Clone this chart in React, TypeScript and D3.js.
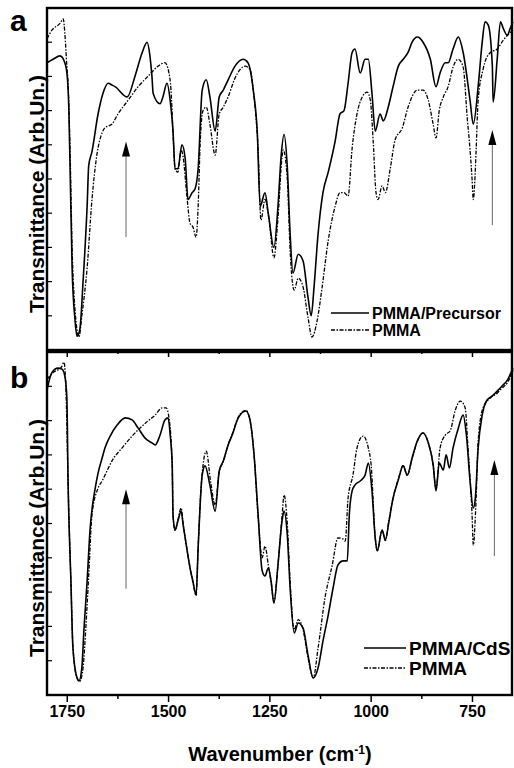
import React, { useEffect, useRef } from 'react';
import * as d3 from 'd3';

type Pt = [number, number];

// panel a: PMMA/Precursor vs PMMA (wavenumber, transmittance arb.)
const precursorA: Pt[] = [
  [1800, 84], [1785, 85], [1768, 86], [1756, 84], [1750, 80], [1746, 70], [1743, 53], [1738, 24], [1731, 9], [1726, 4],
  [1719, 6], [1711, 20], [1701, 42], [1697, 54], [1689, 58], [1674, 69], [1662, 75], [1649, 78], [1640, 77.5], [1632, 77],
  [1602, 74], [1583, 80], [1565, 87], [1553, 90], [1546, 86], [1541, 80], [1538, 75], [1521, 72], [1514, 74], [1504, 78],
  [1496, 73], [1489, 64], [1484, 53], [1477, 53], [1467, 60], [1459, 56], [1452, 44], [1442, 46], [1435, 47], [1427, 53],
  [1417, 76], [1407, 79], [1398, 74], [1385, 64], [1375, 74], [1365, 76], [1353, 79], [1336, 83], [1316, 85], [1304, 84],
  [1291, 76], [1281, 63.5], [1274, 42], [1262, 46], [1254, 40], [1240, 30], [1230, 42], [1222, 57], [1215, 63], [1207, 53.5],
  [1200, 34], [1193, 22.5], [1180, 28], [1168, 26], [1156, 15.5], [1148, 10], [1141, 18.4], [1131, 34], [1119, 46], [1106, 52],
  [1089, 61], [1077, 69], [1067, 70], [1057, 78], [1047, 87], [1040, 88], [1027, 81], [1015, 85], [1007, 85], [998, 75],
  [990, 64], [978, 69], [970, 67], [958, 71], [946, 77], [933, 83], [921, 85], [909, 87], [899, 90], [886, 91.5],
  [872, 90], [854, 85], [840, 77], [830, 81], [817, 84], [810, 84], [798, 88], [785, 91.5], [773, 87], [756, 73],
  [748, 66], [736, 77], [726, 90], [719, 96], [711, 95], [701, 83], [699, 72.5], [689, 85], [681, 96], [674, 94],
  [664, 92], [657, 94], [650, 96],
];

const pmmaA: Pt[] = [
  [1800, 91], [1788, 93.5], [1768, 95.5], [1760, 96.8], [1756, 92.7], [1751, 83], [1748, 78], [1743, 58], [1738, 30], [1731, 12],
  [1721, 3.8], [1714, 10], [1701, 24], [1689, 44], [1677, 57], [1664, 63.5], [1657, 65], [1640, 66], [1625, 69], [1600, 73],
  [1575, 77], [1551, 80], [1526, 83], [1509, 84], [1499, 81], [1494, 76], [1489, 63.5], [1484, 53], [1477, 52], [1469, 58.5],
  [1464, 56.4], [1454, 44], [1447, 37], [1440, 36], [1432, 33], [1427, 42], [1422, 60.5], [1415, 70], [1407, 71], [1398, 66],
  [1385, 57], [1375, 69], [1365, 71], [1353, 74], [1336, 79.5], [1311, 83], [1299, 82], [1289, 74], [1279, 58.5], [1272, 38],
  [1262, 44], [1252, 38], [1240, 27], [1230, 38.6], [1220, 56.4], [1217, 58.5], [1207, 50], [1200, 29], [1190, 17.5], [1180, 21],
  [1168, 18.4], [1156, 9.6], [1146, 3.8], [1133, 8.8], [1121, 18.4], [1106, 32], [1089, 42], [1077, 46], [1067, 46], [1057, 45],
  [1047, 59], [1035, 69], [1022, 74], [1010, 75.4], [1002, 73], [995, 61], [988, 46], [983, 44], [973, 48], [965, 46],
  [953, 53], [941, 61.4], [923, 65], [909, 71], [886, 76], [872, 76], [859, 73], [847, 66], [840, 62], [832, 70],
  [822, 74], [810, 77], [798, 82.7], [785, 85], [773, 82.7], [763, 68], [756, 58.5], [751, 50], [748, 44], [744, 50],
  [741, 58.5], [736, 73], [724, 82], [706, 87], [689, 88], [674, 90.6], [650, 93.6],
];

// panel b: PMMA/CdS vs PMMA
const cdsB: Pt[] = [
  [1800, 89], [1788, 94], [1773, 95.3], [1763, 95], [1756, 93], [1751, 86.6], [1748, 62.4], [1741, 33.2], [1736, 13.7], [1726, 5],
  [1721, 4.1], [1714, 7.9], [1709, 18.7], [1701, 33.2], [1694, 47.8], [1681, 60.3], [1674, 64.7], [1664, 69.1], [1657, 72], [1644, 75.5],
  [1627, 78.7], [1607, 80.8], [1590, 80.2], [1575, 77.8], [1558, 74.9], [1541, 73.5], [1533, 72.9], [1521, 75.8], [1509, 80.2], [1501, 80.8],
  [1496, 75.8], [1491, 67.1], [1489, 52.5], [1484, 48.1], [1477, 50.7], [1469, 53.6], [1464, 49.6], [1454, 42], [1447, 37], [1440, 33.2],
  [1432, 29.2], [1427, 42.9], [1417, 64.1], [1410, 66.8], [1398, 61.2], [1385, 53.6], [1375, 65.3], [1365, 68.2], [1353, 72.9], [1343, 75.8],
  [1328, 80.8], [1309, 82.8], [1299, 80.2], [1289, 70], [1279, 52.5], [1269, 36.2], [1262, 34.7], [1254, 37], [1247, 33.2], [1240, 26.8],
  [1230, 37.9], [1220, 50.7], [1215, 53.6], [1207, 46.6], [1200, 31.2], [1190, 18.1], [1180, 21], [1168, 19.5], [1156, 11.7], [1143, 5],
  [1131, 7.9], [1119, 15.7], [1106, 23.3], [1094, 31.2], [1082, 37.9], [1069, 39.1], [1059, 39.1], [1054, 52.5], [1047, 59.5], [1040, 61.2],
  [1027, 62.4], [1015, 64.1], [1007, 67.6], [998, 59.5], [990, 45.8], [985, 42], [973, 48.1], [965, 45.2], [956, 50.7], [946, 57.4],
  [933, 62.7], [921, 66.8], [911, 64.1], [899, 69.1], [886, 74.1], [872, 76.4], [859, 73.5], [847, 67.1], [840, 59.5], [832, 67.6],
  [822, 65.6], [815, 70], [807, 66.2], [798, 72], [785, 77.8], [773, 81.6], [765, 75.8], [756, 62.4], [748, 54.5], [743, 57.4],
  [736, 72], [726, 81.6], [714, 86], [701, 87.2], [689, 88.6], [677, 90.1], [664, 91.8], [650, 95.3],
];

const pmmaB: Pt[] = [
  [1800, 92], [1785, 94], [1765, 95.5], [1758, 97], [1753, 88], [1748, 62], [1741, 33], [1736, 14], [1726, 5], [1719, 4],
  [1711, 8], [1704, 20], [1697, 35], [1689, 52.5], [1674, 60.3], [1664, 62.4], [1652, 65.3], [1640, 68.2], [1615, 72], [1590, 75.5],
  [1565, 78.4], [1551, 79.9], [1533, 81.6], [1516, 83.7], [1506, 83.7], [1499, 80.8], [1491, 67], [1489, 52.5], [1484, 48], [1477, 51],
  [1469, 54.5], [1464, 50], [1454, 42], [1440, 33], [1432, 29], [1427, 43], [1420, 60], [1407, 71.1], [1396, 62], [1385, 55.4],
  [1375, 65], [1365, 68], [1353, 73], [1343, 76], [1328, 81], [1309, 83], [1299, 80], [1289, 70], [1279, 52], [1269, 40],
  [1262, 43.4], [1254, 38], [1247, 33], [1240, 27], [1230, 38], [1220, 52], [1215, 58.3], [1207, 50], [1200, 33], [1190, 19],
  [1180, 22], [1168, 19], [1156, 11], [1143, 5], [1131, 13.7], [1114, 28.3], [1096, 37.9], [1082, 45.8], [1070, 45.5], [1064, 44.9],
  [1057, 57.4], [1045, 64.1], [1035, 72], [1020, 75.5], [1007, 72], [1000, 67], [990, 45.8], [985, 42], [973, 48], [965, 45],
  [956, 51], [946, 57.4], [933, 63], [921, 67], [911, 64], [899, 69], [886, 74], [872, 76.4], [859, 73.5], [847, 67],
  [840, 60], [830, 72], [817, 75.8], [805, 77], [793, 82.8], [780, 85.7], [768, 83.7], [761, 72], [751, 52.5], [748, 43.7],
  [741, 57.4], [736, 74.1], [724, 83.7], [706, 86.6], [689, 88], [677, 89.5], [664, 91], [650, 94.7],
];

const majorTicks = [1750, 1500, 1250, 1000, 750];
const minorTicks = [1625, 1375, 1125, 875];
const yTicks = [10, 20, 30, 40, 50, 60, 70, 80, 90];

// arrows: [wavenumber, from, to]
const arrowsA: [number, number, number][] = [[1605, 33, 61], [701, 36.5, 64.3]];
const arrowsB: [number, number, number][] = [[1605, 31, 60], [696, 40.5, 68.5]];

const FONT = '"Liberation Sans", Arial, sans-serif';
const DASH = '4,1.5,1.5,1.5';

const App: React.FC = () => {
  const svgRef = useRef<SVGSVGElement>(null);

  useEffect(() => {
    if (!svgRef.current) return;
    const svg = d3.select(svgRef.current);
    svg.selectAll('*').remove();

    const x = d3.scaleLinear().domain([1800, 650]).range([47, 513]);

    const panels = [
      { top: 8, bottom: 350, label: 'a', solid: precursorA, dashed: pmmaA, names: ['PMMA/Precursor', 'PMMA'], arrows: arrowsA, legX: 331, legY: 313, legLen: 38, legFont: 16, legGap: 17, titleY: 194 },
      { top: 352, bottom: 695, label: 'b', solid: cdsB, dashed: pmmaB, names: ['PMMA/CdS', 'PMMA'], arrows: arrowsB, legX: 364, legY: 648, legLen: 42, legFont: 19, legGap: 20, titleY: 538 },
    ];

    panels.forEach((p, i) => {
      const y = d3.scaleLinear().domain([0, 100]).range([p.bottom, p.top]);
      const g = svg.append('g');

      const line = d3.line<Pt>()
        .x(d => x(d[0]))
        .y(d => y(d[1]))
        .curve(d3.curveMonotoneX);

      g.append('path').datum(p.dashed).attr('d', line)
        .attr('fill', 'none').attr('stroke', '#000').attr('stroke-width', 1.3)
        .attr('stroke-dasharray', DASH);
      g.append('path').datum(p.solid).attr('d', line)
        .attr('fill', 'none').attr('stroke', '#000').attr('stroke-width', 1.6);

      // y ticks (inward, no labels)
      g.selectAll('.yt').data(yTicks).enter().append('line')
        .attr('x1', x(1800)).attr('x2', x(1800) + 5)
        .attr('y1', d => y(d)).attr('y2', d => y(d))
        .attr('stroke', '#000').attr('stroke-width', 1.2);

      // x ticks below each panel
      g.selectAll('.xt').data(majorTicks).enter().append('line')
        .attr('x1', d => x(d)).attr('x2', d => x(d))
        .attr('y1', p.bottom).attr('y2', p.bottom + 7)
        .attr('stroke', '#000').attr('stroke-width', 1.5);
      g.selectAll('.xm').data(minorTicks).enter().append('line')
        .attr('x1', d => x(d)).attr('x2', d => x(d))
        .attr('y1', p.bottom).attr('y2', p.bottom + 4)
        .attr('stroke', '#000').attr('stroke-width', 1.5);

      // frame
      g.append('rect')
        .attr('x', x(1800)).attr('y', p.top)
        .attr('width', x(650) - x(1800) - 1).attr('height', p.bottom - p.top)
        .attr('fill', 'none').attr('stroke', '#000').attr('stroke-width', 2.4);

      // arrows
      p.arrows.forEach(([w, v0, v1]) => {
        const ax = x(w);
        g.append('line')
          .attr('x1', ax).attr('x2', ax).attr('y1', y(v0)).attr('y2', y(v1) + 10)
          .attr('stroke', '#666').attr('stroke-width', 1);
        g.append('path')
          .attr('d', `M${ax},${y(v1)} L${ax - 4},${y(v1) + 15} L${ax + 4},${y(v1) + 15} Z`)
          .attr('fill', '#000');
      });

      // legend
      p.names.forEach((name, j) => {
        const ly = p.legY + j * p.legGap;
        g.append('line')
          .attr('x1', p.legX).attr('x2', p.legX + p.legLen)
          .attr('y1', ly).attr('y2', ly)
          .attr('stroke', '#000').attr('stroke-width', j === 0 ? 1.5 : 1.3)
          .attr('stroke-dasharray', j === 0 ? null : DASH);
        g.append('text')
          .attr('x', p.legX + p.legLen + 3).attr('y', ly + p.legFont * 0.36)
          .attr('font-family', FONT).attr('font-weight', 'bold').attr('font-size', p.legFont)
          .text(name);
      });

      // panel letter
      g.append('text')
        .attr('x', 10).attr('y', p.top + (i === 0 ? 23 : 36))
        .attr('font-family', FONT).attr('font-weight', 'bold').attr('font-size', 30)
        .text(p.label);

      // y title
      g.append('text')
        .attr('transform', `translate(44, ${p.titleY}) rotate(-90)`)
        .attr('text-anchor', 'middle')
        .attr('font-family', FONT).attr('font-weight', 'bold').attr('font-size', 21)
        .text('Transmittance (Arb.Un.)');
    });

    // x tick labels
    svg.selectAll('.xl').data(majorTicks).enter().append('text')
      .attr('x', d => x(d)).attr('y', 717)
      .attr('text-anchor', 'middle')
      .attr('font-family', FONT).attr('font-weight', 'bold').attr('font-size', 16)
      .text(d => d);

    // x title
    const t = svg.append('text')
      .attr('x', 280).attr('y', 761)
      .attr('text-anchor', 'middle')
      .attr('font-family', FONT).attr('font-weight', 'bold').attr('font-size', 20);
    t.append('tspan').text('Wavenumber (cm');
    t.append('tspan').attr('dy', -7).attr('font-size', 12).text('-1');
    t.append('tspan').attr('dy', 7).text(')');
  }, []);

  return (
    <svg ref={svgRef} width={514} height={768}
      style={{ position: 'absolute', left: 0, top: 0, background: '#fff' }} />
  );
};

export default App;
